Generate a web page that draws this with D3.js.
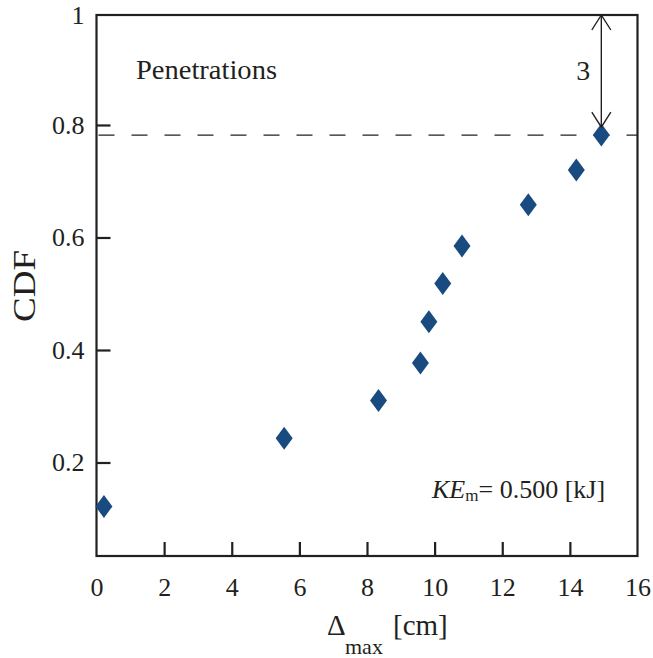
<!DOCTYPE html>
<html><head><meta charset="utf-8">
<script src="https://cdn.jsdelivr.net/npm/d3@7"></script>
<style>body{margin:0;background:#fff}svg{display:block}</style>
</head><body>
<svg id="c" width="653" height="658"></svg>
<script>
const deltaMax = [0.22, 5.55, 8.34, 9.58, 9.83, 10.24, 10.81, 12.77, 14.19, 14.93];
const cdf      = [0.122, 0.243, 0.310, 0.377, 0.450, 0.518, 0.585, 0.658, 0.720, 0.782];
const xTicks = [0, 2, 4, 6, 8, 10, 12, 14, 16];
const yTicks = [0.2, 0.4, 0.6, 0.8, 1];
const yTickLabels = ["0.2", "0.4", "0.6", "0.8", "1"];
const dashLevel = 0.782;
const arrowLabel = "3";

const FONT = '"Liberation Serif", Tinos, "Times New Roman", serif';
const svg = d3.select("#c").style("font-family", FONT);
const L = 96.5, R = 637.5, T = 15, B = 556;
const x = d3.scaleLinear().domain([0, 16]).range([L, R]);
const y = d3.scaleLinear().domain([0.0338, 0.9955]).range([B, T]);
const ink = "#231f20";
const blue = "#194b80";

svg.append("line").attr("x1", L).attr("x2", R).attr("y1", y(dashLevel)).attr("y2", y(dashLevel))
  .attr("stroke", ink).attr("stroke-width", 1.4).attr("stroke-dasharray", "16,17").attr("stroke-dashoffset", -2);

svg.append("rect").attr("x", L).attr("y", T).attr("width", R - L).attr("height", B - T)
  .attr("fill", "none").attr("stroke", ink).attr("stroke-width", 2.2);

const xa = svg.append("g").attr("transform", `translate(0,${B})`)
  .call(d3.axisBottom(x).tickValues(xTicks).tickSize(-14).tickPadding(22).tickFormat(d3.format("d")));
xa.attr("font-family", null).attr("font-size", null);
xa.select(".domain").remove();
xa.selectAll(".tick line").attr("stroke", ink).attr("stroke-width", 2.2)
  .attr("display", d => (d === 0 || d === 16) ? "none" : null);
xa.selectAll(".tick text").attr("font-size", 26).attr("fill", ink).style("font-family", FONT);

const ya = svg.append("g").attr("transform", `translate(${L},0)`)
  .call(d3.axisLeft(y).tickValues(yTicks).tickSize(-14).tickPadding(12).tickFormat((d, i) => yTickLabels[i]));
ya.attr("font-family", null).attr("font-size", null);
ya.select(".domain").remove();
ya.selectAll(".tick line").attr("stroke", ink).attr("stroke-width", 2.2)
  .attr("display", d => d === 1 ? "none" : null);
ya.selectAll(".tick text").attr("font-size", 26).attr("fill", ink).style("font-family", FONT);
ya.selectAll(".tick").filter(d => d === 1).attr("transform", `translate(0,${y(1) + 3.5})`);

const data = deltaMax.map((d, i) => ({ x: d, y: cdf[i] }));
svg.append("g").selectAll("path").data(data).join("path")
  .attr("transform", d => `translate(${x(d.x)},${y(d.y)})`)
  .attr("d", "M0,-11.5L8.5,0L0,11.5L-8.5,0Z")
  .attr("fill", blue);

const ax = x(deltaMax[deltaMax.length - 1]);
const aTop = T, aBot = y(dashLevel) - 8;
const ag = svg.append("g").attr("stroke", ink).attr("stroke-width", 1.4).attr("fill", "none");
ag.append("line").attr("x1", ax).attr("x2", ax).attr("y1", aTop).attr("y2", aBot);
ag.append("path").attr("d", `M${ax - 9.5},${aTop + 15}L${ax},${aTop}L${ax + 9.5},${aTop + 15}`);
ag.append("path").attr("d", `M${ax - 9.5},${aBot - 15}L${ax},${aBot}L${ax + 9.5},${aBot - 15}`);

const T2 = svg.append("g").attr("fill", ink);
T2.append("text").attr("x", ax - 18).attr("y", 80).attr("text-anchor", "middle")
  .attr("font-size", 28).text(arrowLabel);

T2.append("text").attr("x", 136).attr("y", 79).attr("font-size", 28).attr("textLength", 141)
  .attr("lengthAdjust", "spacingAndGlyphs").text("Penetrations");

const ke = T2.append("text").attr("x", 432).attr("y", 498).attr("font-size", 26);
ke.append("tspan").attr("font-style", "italic").text("KE");
ke.append("tspan").attr("font-size", 17).attr("dy", 3).text("m");
ke.append("tspan").attr("dy", -3).text("= 0.500 [kJ]");

T2.append("text").attr("transform", "translate(35,286) rotate(-90)").attr("text-anchor", "middle")
  .attr("font-size", 31).attr("textLength", 72).attr("lengthAdjust", "spacingAndGlyphs").text("CDF");

T2.append("text").attr("x", 327).attr("y", 635).attr("font-size", 29).text("Δ");
T2.append("text").attr("x", 345).attr("y", 654).attr("font-size", 22).text("max");
T2.append("text").attr("x", 393).attr("y", 635).attr("font-size", 29).text("[cm]");
</script>
</body></html>
